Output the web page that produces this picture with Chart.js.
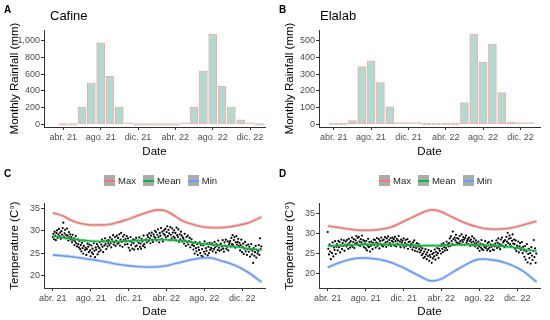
<!DOCTYPE html>
<html lang="en">
<head>
<meta charset="UTF-8">
<title>Rainfall and temperature</title>
<script src="https://cdn.jsdelivr.net/npm/chart.js"></script>
<style>
  body { margin: 0; background: #fff; font-family: "Liberation Sans", Arial, sans-serif; }
  #wrap { position: relative; width: 550px; height: 320px; overflow: hidden; }
  canvas { position: absolute; }
  .tag { position: absolute; font-weight: bold; font-size: 10px; color: #000; }
  .ttl { position: absolute; font-size: 13px; color: #000; }
  .legend { position: absolute; display: flex; align-items: center; font-size: 9.5px; color: #222; }
  .item { display: flex; align-items: center; margin-right: 7px; }
  .key { width: 11px; height: 11px; background: #ababab; position: relative; margin-right: 3px; }
  .key span { position: absolute; left: 0; right: 0; top: 5px; height: 1.5px; }
</style>
</head>
<body>
<div id="wrap">
  <canvas id="chartA" width="275" height="160" style="left:0;top:0"></canvas>
  <canvas id="chartB" width="275" height="160" style="left:275px;top:0"></canvas>
  <canvas id="chartC" width="275" height="160" style="left:0;top:160px"></canvas>
  <canvas id="chartD" width="275" height="160" style="left:275px;top:160px"></canvas>
  <div class="tag" style="left:4px;top:4px">A</div>
  <div class="tag" style="left:279px;top:4px">B</div>
  <div class="tag" style="left:4px;top:168px">C</div>
  <div class="tag" style="left:279px;top:168px">D</div>
  <div class="ttl" style="left:50px;top:8px">Cafine</div>
  <div class="ttl" style="left:320px;top:8px">Elalab</div>
  <div class="legend" id="legendC" style="left:104px;top:175px"></div>
  <div class="legend" id="legendD" style="left:379px;top:175px"></div>
</div>

<script>
    // monthly rainfall, abr. 21 .. ene. 23
    const rainCafine = [0, 0, 205, 494, 975, 573, 207, 16, 0, 0, 0, 0, 0, 16, 205, 636, 1078, 457, 207, 55, 6, 0];
    const rainElalab = [0, 0, 22, 346, 380, 250, 104, 5, 5, 2, 0, 0, 0, 0, 130, 541, 372, 481, 190, 14, 5, 2];
    const rainTicksCafine = [0, 200, 400, 600, 800, 1000];
    const rainTicksElalab = [0, 100, 200, 300, 400, 500];
    const monthTickPos = [0, 4, 8, 12, 16, 20];
    const dateLabels = ['abr. 21', 'ago. 21', 'dic. 21', 'abr. 22', 'ago. 22', 'dic. 22'];

    // daily temperature, one value every 2 days from 1 abr. 21
    const dayStep = 2;
    const dayTickPos = [0, 122, 244, 365, 487, 609];
    const tempTicks = [20, 25, 30, 35];

    const tempCafine = [
        28.6, 29.3, 28.1, 29.8, 28.9, 27.9, 29.5, 30.1, 28.4, 29.2, 30.4, 28.8, 29.6, 28.2, 29.9,
        29.1, 30.6, 31.8, 28.7, 29.4, 30.2, 28.3, 29.0, 30.5, 28.9, 27.8, 29.7, 28.5, 29.2, 28.0,
        28.6, 27.4, 29.1, 27.9, 28.3, 26.8, 27.6, 28.8, 27.2, 26.5, 28.1, 27.0, 26.3, 27.7, 25.9,
        26.8, 25.4, 27.3, 26.1, 24.9, 26.6, 27.8, 25.7, 26.2, 24.6, 25.9, 27.1, 26.4, 25.2, 26.9,
        25.6, 24.3, 26.7, 25.1, 26.0, 24.8, 27.2, 25.5, 24.1, 26.3, 25.8, 27.0, 24.7, 26.5, 25.3,
        26.1, 27.4, 25.6, 26.9, 28.0, 26.4, 25.2, 27.6, 26.7, 28.3, 27.0, 25.9, 27.8, 26.5, 27.3,
        27.9, 26.8, 28.5, 27.2, 26.3, 28.1, 27.6, 29.0, 26.9, 27.4, 28.6, 26.6, 27.8, 28.9, 27.1,
        28.4, 27.3, 29.2, 26.7, 28.0, 29.5, 27.5, 26.4, 28.7, 27.9, 29.1, 26.9, 28.2, 27.6, 28.8,
        27.0, 28.3, 26.2, 27.7, 25.6, 28.6, 26.8, 27.4, 26.0, 28.1, 27.2, 25.8, 27.9, 26.5, 28.4,
        26.7, 27.8, 25.9, 27.3, 28.5, 26.4, 27.1, 26.0, 28.2, 27.6, 26.6, 28.9, 27.0, 26.3, 27.9,
        28.1, 27.4, 29.0, 28.6, 27.7, 29.4, 28.3, 27.2, 28.9, 29.6, 28.0, 27.5, 29.2, 28.7, 30.0,
        28.4, 29.7, 27.8, 29.1, 30.3, 28.6, 27.4, 29.5, 28.9, 30.6, 28.2, 29.8, 27.6, 29.3, 30.1,
        29.0, 30.4, 28.5, 29.7, 31.0, 28.8, 30.2, 29.4, 27.9, 30.8, 29.1, 28.3, 30.5, 29.6, 28.7,
        30.1, 28.4, 29.5, 27.8, 30.7, 29.0, 28.6, 30.3, 27.5, 29.2, 28.1, 29.8, 28.9, 27.6, 28.5,
        28.2, 27.1, 29.3, 27.8, 26.6, 28.6, 27.4, 28.9, 26.9, 27.7, 28.4, 26.3, 27.5, 28.1, 26.8,
        27.2, 25.8, 26.6, 24.9, 27.5, 26.1, 25.4, 27.0, 24.6, 26.3, 25.7, 27.4, 25.0, 26.8, 24.4,
        25.9, 24.2, 26.7, 25.3, 27.6, 24.8, 26.1, 25.5, 27.1, 24.5, 26.4, 25.0, 27.3, 25.7, 26.2,
        26.0, 27.2, 25.4, 26.8, 25.9, 27.5, 26.3, 25.1, 27.0, 26.6, 25.7, 27.8, 26.2, 25.5, 26.9,
        27.1, 25.8, 26.5, 27.9, 26.0, 25.3, 27.4, 26.7, 28.0, 25.9, 26.4, 27.6, 25.6, 26.9, 27.3,
        27.7, 26.5, 28.4, 27.0, 29.0, 26.8, 27.9, 28.6, 26.2, 27.4, 28.8, 26.9, 27.5, 28.2, 26.6,
        27.3, 25.6, 26.8, 28.0, 25.2, 26.4, 27.1, 24.8, 26.0, 27.5, 25.4, 26.7, 24.6, 25.9, 26.9,
        25.3, 26.4, 24.2, 25.8, 27.0, 24.7, 25.5, 22.8, 26.1, 24.4, 25.2, 26.6, 24.0, 25.7, 24.9,
        25.4, 26.8, 24.6, 28.3, 25.9, 26.5
    ];

    const tempElalab = [
        30.4, 26.2, 24.8, 27.3, 25.5, 23.6, 26.9, 25.1, 27.8, 24.3, 26.5, 25.9, 28.1, 24.9, 26.7,
        27.4, 25.8, 28.2, 26.6, 27.9, 25.3, 27.0, 28.5, 26.1, 27.6, 26.9, 28.3, 25.7, 27.2, 28.0,
        26.8, 28.4, 27.3, 26.2, 28.7, 27.7, 26.5, 28.1, 27.0, 29.0, 26.7, 27.9, 28.6, 26.4, 27.5,
        28.3, 29.4, 27.6, 28.9, 27.1, 29.2, 28.0, 26.9, 28.6, 27.8, 29.5, 27.3, 28.4, 26.6, 28.1,
        27.5, 26.3, 28.2, 25.8, 27.0, 28.7, 26.6, 27.9, 25.5, 26.9, 28.0, 27.2, 26.1, 27.7, 28.5,
        27.2, 28.4, 26.5, 27.8, 28.9, 26.9, 27.5, 28.6, 26.3, 28.1, 27.4, 29.0, 27.0, 28.3, 26.8,
        28.5, 27.3, 29.1, 27.8, 26.7, 28.8, 28.0, 29.3, 27.1, 28.4, 27.6, 28.9, 26.9, 28.2, 29.0,
        27.9, 28.6, 27.0, 29.2, 28.1, 26.8, 28.7, 27.5, 28.3, 29.4, 27.2, 28.0, 26.6, 28.5, 27.7,
        28.2, 27.0, 28.8, 26.5, 27.7, 28.4, 26.9, 27.3, 28.6, 26.2, 27.9, 27.1, 28.0, 26.7, 27.4,
        27.2, 26.0, 27.8, 26.6, 28.3, 25.7, 27.0, 26.4, 27.6, 25.5, 26.8, 27.4, 26.1, 25.3, 26.7,
        25.8, 24.6, 26.3, 25.0, 23.9, 25.5, 24.2, 26.1, 24.8, 23.6, 25.3, 24.4, 25.9, 23.2, 24.7,
        24.1, 25.6, 22.7, 24.9, 23.8, 25.2, 24.3, 26.0, 23.5, 25.4, 24.6, 26.4, 25.1, 23.9, 26.2,
        25.7, 26.9, 25.0, 27.3, 26.2, 25.4, 27.6, 26.6, 25.8, 27.1, 26.4, 28.0, 25.9, 27.4, 26.8,
        27.6, 28.8, 26.9, 29.3, 28.1, 27.4, 30.5, 28.6, 27.2, 29.0, 28.3, 29.7, 27.8, 28.9, 27.5,
        28.7, 27.6, 29.4, 28.1, 27.3, 29.8, 28.4, 27.9, 29.1, 28.5, 27.2, 28.9, 29.5, 27.7, 28.2,
        28.6, 27.4, 29.0, 28.2, 26.9, 28.5, 27.8, 29.3, 27.1, 28.0, 28.8, 27.5, 26.8, 28.3, 27.6,
        27.2, 26.3, 28.0, 26.8, 25.7, 27.5, 26.5, 28.4, 26.1, 27.3, 25.9, 27.0, 26.6, 28.1, 26.4,
        26.9, 25.8, 27.6, 26.2, 27.9, 26.5, 25.6, 27.3, 26.7, 28.2, 26.0, 27.1, 25.9, 26.8, 27.5,
        27.0, 28.3, 26.4, 27.7, 28.8, 26.7, 27.4, 26.1, 28.5, 27.2, 29.0, 26.9, 27.8, 28.1, 26.6,
        28.4, 27.1, 29.2, 28.0, 30.2, 27.6, 28.7, 29.5, 27.3, 28.9, 26.8, 28.2, 29.8, 27.5, 28.5,
        27.4, 26.2, 28.3, 25.6, 27.0, 26.5, 28.0, 25.3, 26.8, 27.6, 25.9, 26.4, 27.9, 25.1, 26.7,
        25.8, 24.2, 26.9, 23.5, 25.5, 27.4, 22.8, 24.9, 26.2, 23.9, 25.1, 22.5, 26.6, 24.5, 23.4,
        25.7, 28.4, 24.1, 26.3, 22.7, 25.0
    ];

    // smoothed curves (days since 1 abr. 21)
    const smoothDays = [0, 30, 60, 90, 120, 150, 180, 210, 240, 270, 300, 330, 360, 390, 420, 450, 480, 510, 540, 570, 600, 630, 671];
    const maxCafine  = [34.0, 33.4, 32.3, 31.6, 31.3, 31.3, 31.4, 31.9, 32.5, 33.3, 34.0, 34.6, 34.5, 33.4, 32.1, 31.4, 30.9, 30.7, 30.7, 30.9, 31.3, 31.8, 33.1];
    const meanCafine = [28.8, 28.5, 28.2, 27.9, 27.7, 27.6, 27.6, 27.6, 27.7, 27.8, 27.9, 28.0, 28.0, 27.9, 27.7, 27.4, 27.1, 26.9, 26.7, 26.5, 26.3, 26.0, 25.7];
    const minCafine  = [24.6, 24.4, 24.2, 23.9, 23.6, 23.3, 22.9, 22.5, 22.2, 22.0, 21.9, 21.9, 22.1, 22.6, 23.1, 23.6, 23.9, 23.9, 23.3, 22.7, 21.8, 20.6, 18.5];
    const maxElalab  = [31.9, 31.6, 31.2, 30.9, 30.8, 30.9, 31.2, 31.8, 32.9, 34.0, 35.1, 35.9, 35.6, 34.5, 33.4, 32.4, 31.7, 31.2, 31.1, 31.2, 31.6, 32.2, 33.1];
    const meanElalab = [26.9, 27.0, 27.1, 27.2, 27.3, 27.3, 27.3, 27.3, 27.2, 27.1, 27.0, 27.0, 27.0, 27.1, 27.2, 27.2, 27.2, 27.1, 27.0, 26.8, 26.5, 26.1, 25.6];
    const minElalab  = [21.5, 22.5, 23.3, 23.8, 23.9, 23.7, 23.3, 22.6, 21.6, 20.4, 19.2, 18.2, 18.5, 19.8, 21.2, 22.5, 23.5, 23.6, 23.3, 22.7, 21.8, 20.5, 17.9];

    const seriesNames = ['Max', 'Mean', 'Min'];
    const seriesColors = ['#F8766D', '#00BA38', '#619CFF'];

    Chart.defaults.font.family = '"Liberation Sans", Arial, sans-serif';
    Chart.defaults.color = '#000';

    const tickFont = { size: 9 };
    const titleFont = { size: 11.5 };

    function xAxis(min, max, tickPos, labels, height) {
        return {
            type: 'linear',
            min: min,
            max: max,
            offset: false,
            border: { color: '#333', width: 1 },
            grid: { offset: false, drawOnChartArea: false, drawTicks: true, tickLength: 3, color: '#333' },
            ticks: {
                color: '#4d4d4d', font: tickFont, padding: 2, autoSkip: false, maxRotation: 0,
                callback: (v, i) => labels[i]
            },
            afterBuildTicks: s => { s.ticks = tickPos.map(v => ({ value: v })); },
            afterFit: s => { s.height = height; },
            title: { display: true, text: 'Date', font: titleFont, color: '#000', padding: { top: 0, bottom: 1 } }
        };
    }

    function yAxis(min, max, tickVals, text) {
        return {
            min: min,
            max: max,
            border: { color: '#333', width: 1 },
            grid: { drawOnChartArea: false, drawTicks: true, tickLength: 3, color: '#333' },
            ticks: { color: '#4d4d4d', font: tickFont, padding: 1 },
            afterBuildTicks: s => { s.ticks = tickVals.map(v => ({ value: v })); },
            afterFit: s => { s.width = 44; },
            title: { display: true, text: text, font: titleFont, color: '#000', padding: { top: 8, bottom: 0 } }
        };
    }

    function rainChart(id, values, yMin, yMax, yTicks, xMin, xMax) {
        new Chart(document.getElementById(id), {
            type: 'bar',
            data: {
                datasets: [{
                    data: values.map((v, i) => ({ x: i, y: v })),
                    backgroundColor: '#b3dad2',
                    borderColor: '#f6aca4',
                    borderWidth: 1,
                    borderSkipped: false,
                    barThickness: 8,
                    minBarLength: 1.5
                }]
            },
            options: {
                responsive: false,
                animation: false,
                layout: { padding: { top: 30, right: 10, left: 0, bottom: 0 } },
                plugins: { legend: { display: false }, tooltip: { enabled: false } },
                scales: {
                    x: xAxis(xMin, xMax, monthTickPos, dateLabels, 33),
                    y: yAxis(yMin, yMax, yTicks, 'Monthly Rainfall (mm)')
                }
            }
        });
    }

    function tempChart(id, temps, maxV, meanV, minV, yMin, yMax) {
        const datasets = [{
            data: temps.map((v, i) => ({ x: i * dayStep, y: v })),
            backgroundColor: '#000',
            borderWidth: 0,
            pointRadius: 1.1,
            order: 3
        }];
        [maxV, meanV, minV].forEach((vals, k) => {
            const pts = vals.map((v, i) => ({ x: smoothDays[i], y: v }));
            datasets.push({
                data: pts, showLine: true, pointRadius: 0, tension: 0.4,
                borderColor: 'rgba(160,160,160,0.35)', borderWidth: 3.5, order: 2
            });
            datasets.push({
                data: pts, showLine: true, pointRadius: 0, tension: 0.4,
                borderColor: seriesColors[k], borderWidth: 1.6, order: 1
            });
        });
        new Chart(document.getElementById(id), {
            type: 'scatter',
            data: { datasets: datasets },
            options: {
                responsive: false,
                animation: false,
                layout: { padding: { top: 43, right: 10, left: 0, bottom: 0 } },
                plugins: { legend: { display: false }, tooltip: { enabled: false } },
                scales: {
                    x: xAxis(-28, 682, dayTickPos, dateLabels, 32),
                    y: yAxis(yMin, yMax, tempTicks, 'Temperature (C°)')
                }
            }
        });
    }

    function buildLegend(id) {
        const el = document.getElementById(id);
        seriesNames.forEach((name, k) => {
            const item = document.createElement('div');
            item.className = 'item';
            item.innerHTML = '<div class="key"><span style="background:' + seriesColors[k] + '"></span></div>' + name;
            el.appendChild(item);
        });
    }

    rainChart('chartA', rainCafine, -32, 1128, rainTicksCafine, -2.07, 21.6);
    rainChart('chartB', rainElalab, -17, 566, rainTicksElalab, -1.58, 22.1);
    tempChart('chartC', tempCafine, maxCafine, meanCafine, minCafine, 17.2, 36.2);
    tempChart('chartD', tempElalab, maxElalab, meanElalab, minElalab, 16.4, 37.65);
    buildLegend('legendC');
    buildLegend('legendD');
</script>
</body>
</html>
